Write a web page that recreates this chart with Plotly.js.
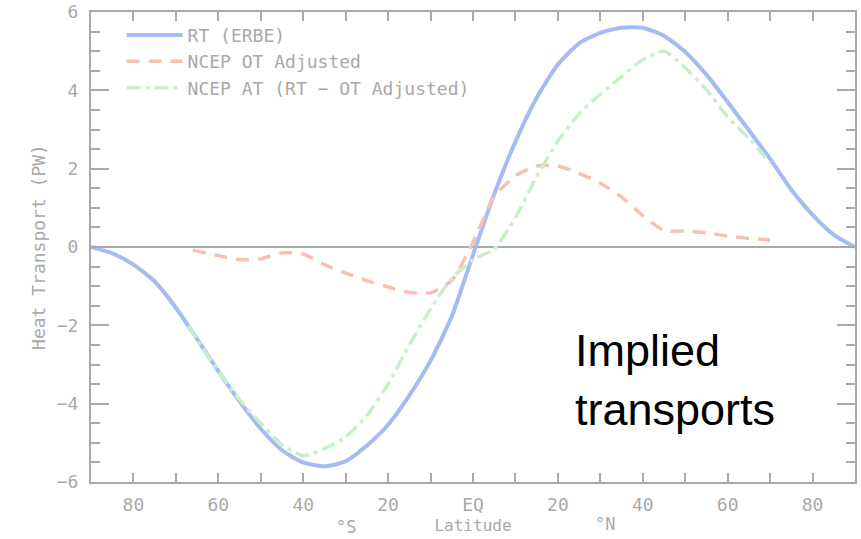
<!DOCTYPE html>
<html>
<head>
<meta charset="utf-8">
<script src="https://cdn.plot.ly/plotly-3.0.1.min.js"></script>
<style>html,body{margin:0;padding:0;background:#fff;}#chart{width:861px;height:539px;}</style>
</head>
<body>
<div id="chart"></div>
<script>
// Radiative transport (ERBE), PW
const latRT = [-90,-85,-80,-75,-70,-65,-60,-55,-50,-45,-40,-35,-30,-25,-20,-15,-10,-5,0,5,10,15,20,25,30,35,40,45,50,55,60,65,70,75,80,85,90];
const valRT = [0,-0.16,-0.45,-0.88,-1.55,-2.35,-3.17,-3.94,-4.64,-5.19,-5.5,-5.6,-5.47,-5.07,-4.54,-3.79,-2.9,-1.77,-0.2,1.35,2.69,3.81,4.66,5.2,5.47,5.6,5.6,5.39,4.98,4.4,3.7,2.98,2.25,1.46,0.82,0.31,0];
// NCEP ocean transport adjusted
const latOT = [-66,-60,-55,-50,-45,-40,-35,-30,-25,-20,-15,-10,-5,0,5,10,15,20,25,30,35,40,45,50,55,60,65,70];
const valOT = [-0.08,-0.22,-0.32,-0.3,-0.15,-0.18,-0.45,-0.67,-0.86,-1.02,-1.16,-1.17,-0.85,0.12,1.28,1.82,2.07,2.07,1.88,1.63,1.28,0.8,0.42,0.41,0.36,0.28,0.22,0.18];
// NCEP atmospheric transport (RT - OT adjusted)
const latAT = [-67,-65,-60,-55,-50,-45,-40,-35,-30,-25,-20,-15,-10,-5,0,5,10,15,20,25,30,35,40,45,50,55,60,65,70];
const valAT = [-2.0,-2.38,-3.17,-3.9,-4.5,-5.05,-5.33,-5.15,-4.85,-4.3,-3.5,-2.5,-1.58,-0.8,-0.32,-0.05,0.75,1.8,2.7,3.4,3.9,4.35,4.78,5.0,4.57,4.02,3.32,2.77,2.15];

const seriesNames = ['RT (ERBE)', 'NCEP OT Adjusted', 'NCEP AT (RT \u2212 OT Adjusted)'];
const xTickVals = [-80,-70,-60,-50,-40,-30,-20,-10,0,10,20,30,40,50,60,70,80];
const xTickText = ['80','','60','','40','','20','','EQ','','20','','40','','60','','80'];
const yTickVals = [-6,-4,-2,0,2,4,6];

const gray = '#a9a9a9';
const monoFam = 'DejaVu Sans Mono, Liberation Mono, monospace';
const tickFont = {family: monoFam, size: 18, color: gray};

const traces = [
  {x: latRT, y: valRT, name: seriesNames[0], type: 'scatter', mode: 'lines',
   line: {color: '#a6baf3', width: 4, shape: 'spline', smoothing: 0.6}},
  {x: latOT, y: valOT, name: seriesNames[1], type: 'scatter', mode: 'lines',
   line: {color: '#f5c1b4', width: 3.5, dash: '13px,9px', shape: 'spline', smoothing: 0.6}},
  {x: latAT, y: valAT, name: seriesNames[2], type: 'scatter', mode: 'lines',
   line: {color: '#c9efc9', width: 3.5, dash: '14px,5px,4px,5px', shape: 'spline', smoothing: 0.6}}
];

const layout = {
  width: 861, height: 539,
  margin: {l: 91, r: 6, t: 12, b: 57},
  paper_bgcolor: '#fff', plot_bgcolor: '#fff',
  showlegend: true,
  legend: {x: 0.04, y: 0.99, xanchor: 'left', yanchor: 'top', bgcolor: 'rgba(0,0,0,0)',
           font: {family: monoFam, size: 18, color: gray}, itemwidth: 56, tracegroupgap: 0},
  xaxis: {range: [-90, 90], showgrid: false, zeroline: false,
          showline: true, linecolor: gray, linewidth: 2, mirror: 'ticks',
          ticks: 'inside', ticklen: 9, tickwidth: 2, tickcolor: gray,
          tickmode: 'array', tickvals: xTickVals, ticktext: xTickText,
          tickfont: tickFont, ticklabelstandoff: 5,
          title: {text: 'Latitude', font: {family: monoFam, size: 16, color: gray}, standoff: 6}},
  yaxis: {range: [-6, 6], showgrid: false,
          zeroline: true, zerolinecolor: gray, zerolinewidth: 2,
          showline: true, linecolor: gray, linewidth: 2, mirror: 'ticks',
          ticks: 'inside', ticklen: 18, tickwidth: 2, tickcolor: gray,
          tickmode: 'array', tickvals: yTickVals,
          minor: {dtick: 0.5, ticks: 'inside', ticklen: 9, tickwidth: 2, tickcolor: gray},
          tickfont: tickFont, ticklabelstandoff: 7,
          title: {text: 'Heat Transport (PW)', font: {family: monoFam, size: 18, color: gray}, standoff: 6}},
  annotations: [
    {xref: 'paper', yref: 'paper', x: 0.631, y: 0.218, xanchor: 'left', yanchor: 'middle', align: 'left',
     text: 'Implied<br>transports', showarrow: false,
     font: {family: 'Liberation Sans, Arial, sans-serif', size: 45, color: '#000'}},
    {xref: 'x', yref: 'paper', x: -30, y: -0.095, xanchor: 'center', yanchor: 'middle',
     text: '\u00b0S', showarrow: false, font: {family: monoFam, size: 17, color: gray}},
    {xref: 'x', yref: 'paper', x: 31, y: -0.09, xanchor: 'center', yanchor: 'middle',
     text: '\u00b0N', showarrow: false, font: {family: monoFam, size: 17, color: gray}}
  ]
};

Plotly.newPlot('chart', traces, layout, {displayModeBar: false, staticPlot: true});
</script>
</body>
</html>
